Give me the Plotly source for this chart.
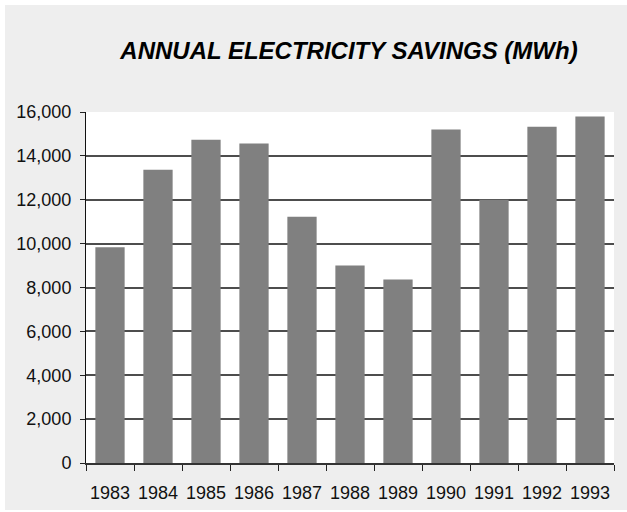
import plotly.graph_objects as go

years = ["1983", "1984", "1985", "1986", "1987", "1988", "1989", "1990", "1991", "1992", "1993"]
savings_mwh = [9830, 13370, 14740, 14560, 11230, 9000, 8360, 15200, 12000, 15330, 15790]
y_ticks = [0, 2000, 4000, 6000, 8000, 10000, 12000, 14000, 16000]
y_tick_labels = ["0", "2,000", "4,000", "6,000", "8,000", "10,000", "12,000", "14,000", "16,000"]

W, H = 627, 512
L, R, T, B = 86, 13, 112, 49
pw, ph = W - L - R, H - T - B

fig = go.Figure(
    go.Bar(
        x=years,
        y=savings_mwh,
        marker=dict(color="#808080", line=dict(width=0)),
        hoverinfo="x+y",
    )
)

# thin white frame around the grey chart panel (top, left, bottom)
def px_x(px):
    return (px - L) / pw

def px_y(py):
    return (H - B - py) / ph

white_strips = [
    dict(x0=px_x(-5), x1=px_x(W + 5), y0=px_y(5), y1=px_y(-5)),
    dict(x0=px_x(-5), x1=px_x(5), y0=px_y(H + 5), y1=px_y(-5)),
    dict(x0=px_x(-5), x1=px_x(W + 5), y0=px_y(H + 5), y1=px_y(H - 2)),
]
shapes = [
    dict(type="rect", xref="paper", yref="paper", line=dict(width=0),
         fillcolor="white", layer="below", **s)
    for s in white_strips
]

fig.update_layout(
    width=W,
    height=H,
    margin=dict(l=L, r=R, t=T, b=B, pad=0, autoexpand=False),
    paper_bgcolor="#eeeeee",
    plot_bgcolor="white",
    bargap=0.39,
    showlegend=False,
    font=dict(family="Liberation Sans, Arial, sans-serif", size=18, color="#111111"),
    title=dict(
        text="ANNUAL ELECTRICITY SAVINGS (MWh)",
        font=dict(family="Liberation Sans, Arial, sans-serif", size=24,
                  weight="bold", style="italic", color="#000000"),
        x=349 / W,
        xanchor="center",
        y=1 - 51 / H,
        yanchor="middle",
        xref="container",
        yref="container",
        automargin=False,
    ),
    shapes=shapes,
    xaxis=dict(
        type="category",
        automargin=False,
        tickangle=0,
        showgrid=False,
        showline=True,
        linecolor="#333333",
        linewidth=1.5,
        ticks="outside",
        tickson="boundaries",
        ticklen=6,
        tickcolor="#222222",
        tickwidth=1,
        ticklabelstandoff=13,
        tickfont=dict(size=18),
    ),
    yaxis=dict(
        range=[0, 16000],
        automargin=False,
        tickvals=y_ticks,
        ticktext=y_tick_labels,
        showgrid=True,
        gridcolor="#4d4d4d",
        gridwidth=1.5,
        zeroline=False,
        showline=True,
        linecolor="#111111",
        linewidth=1,
        ticks="outside",
        ticklen=5,
        tickcolor="#222222",
        tickwidth=1,
        ticklabelstandoff=5,
        tickfont=dict(size=18),
    ),
)

fig.write_html("out.html")
